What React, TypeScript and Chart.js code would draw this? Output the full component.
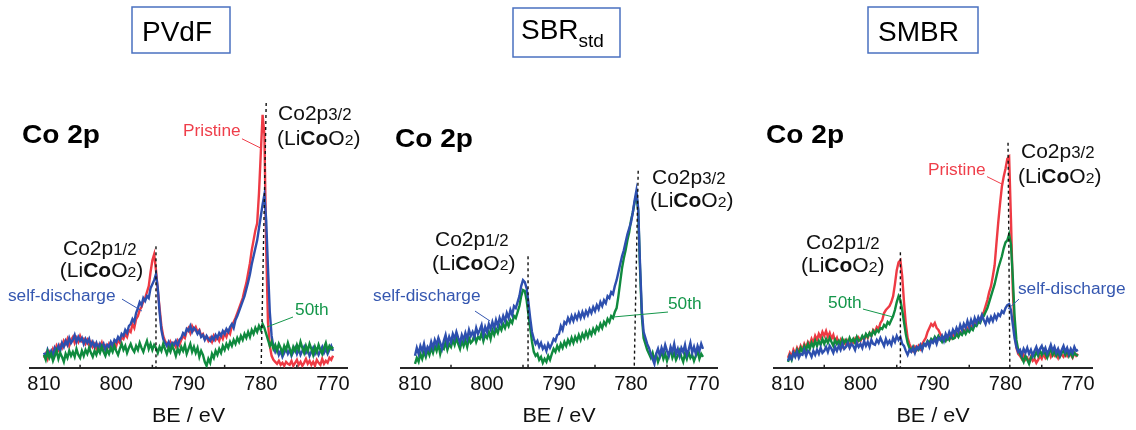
import React, { useEffect, useRef } from "react";
import { Chart, registerables } from "chart.js";
Chart.register(...registerables);

// ---------- data ----------
const BE = [
  810, 809.75, 809.5, 809.25, 809, 808.75, 808.5, 808.25, 808, 807.75, 807.5, 807.25, 807, 806.75, 806.5, 806.25,
  806, 805.75, 805.5, 805.25, 805, 804.75, 804.5, 804.25, 804, 803.75, 803.5, 803.25, 803, 802.75, 802.5, 802.25,
  802, 801.75, 801.5, 801.25, 801, 800.75, 800.5, 800.25, 800, 799.75, 799.5, 799.25, 799, 798.75, 798.5, 798.25,
  798, 797.75, 797.5, 797.25, 797, 796.75, 796.5, 796.25, 796, 795.75, 795.5, 795.25, 795, 794.75, 794.5, 794.25,
  794, 793.75, 793.5, 793.25, 793, 792.75, 792.5, 792.25, 792, 791.75, 791.5, 791.25, 791, 790.75, 790.5, 790.25,
  790, 789.75, 789.5, 789.25, 789, 788.75, 788.5, 788.25, 788, 787.75, 787.5, 787.25, 787, 786.75, 786.5, 786.25,
  786, 785.75, 785.5, 785.25, 785, 784.75, 784.5, 784.25, 784, 783.75, 783.5, 783.25, 783, 782.75, 782.5, 782.25,
  782, 781.75, 781.5, 781.25, 781, 780.75, 780.5, 780.25, 780, 779.75, 779.5, 779.25, 779, 778.75, 778.5, 778.25,
  778, 777.75, 777.5, 777.25, 777, 776.75, 776.5, 776.25, 776, 775.75, 775.5, 775.25, 775, 774.75, 774.5, 774.25,
  774, 773.75, 773.5, 773.25, 773, 772.75, 772.5, 772.25, 772, 771.75, 771.5, 771.25, 771, 770.75, 770.5, 770.25,
  770,
];
const TICKS = [810, 800, 790, 780, 770];
const MINOR_TICKS = [805, 795, 785, 775];

// PVdF
const PVDF_PRISTINE = [
  10, 14, 9, 16, 13, 19, 15, 22, 18, 23, 20, 27, 24, 29, 22, 28,
  31, 25, 30, 26, 32, 27, 29, 24, 28, 23, 26, 21, 24, 19, 23, 20,
  25, 18, 22, 19, 24, 20, 23, 26, 22, 28, 25, 31, 29, 34, 31, 38,
  36, 44, 40, 49, 52, 58, 61, 67, 70, 76, 82, 96, 108, 114, 98, 78,
  60, 42, 32, 27, 24, 20, 26, 22, 25, 21, 27, 23, 28, 32, 30, 37,
  40, 35, 42, 38, 41, 36, 38, 32, 34, 29, 31, 27, 30, 26, 32, 28,
  31, 27, 33, 29, 35, 31, 37, 34, 42, 46, 50, 55, 60, 65, 70, 78,
  85, 95, 105, 118, 128, 138, 145, 175, 215, 254, 235, 120, 45, 22, 12, 8,
  6, 4, 7, 3, 5, 2, 6, 4, 3, 7, 2, 5, 8, 3, 6, 2,
  5, 9, 4, 7, 3, 6, 2, 8, 5, 3, 9, 4, 7, 5, 10, 8,
  12,
];
const PVDF_SELF = [
  15, 11, 18, 13, 17, 12, 20, 16, 22, 17, 25, 21, 27, 23, 30, 25,
  28, 33, 26, 31, 27, 30, 24, 29, 25, 29, 22, 26, 21, 25, 19, 24,
  20, 24, 18, 23, 21, 26, 22, 28, 26, 31, 28, 34, 32, 38, 35, 42,
  44, 49, 46, 55, 60, 66, 63, 70, 67, 72, 70, 80, 84, 88, 94, 80,
  56, 38, 29, 25, 22, 26, 21, 25, 23, 27, 22, 28, 30, 35, 33, 39,
  37, 42, 36, 40, 38, 34, 37, 31, 33, 28, 32, 29, 27, 31, 28, 33,
  30, 35, 32, 37, 34, 39, 36, 41, 44, 40, 48, 52, 57, 62, 67, 72,
  79, 86, 94, 104, 112, 120, 128, 140, 152, 164, 174, 148, 100, 56, 32, 21,
  16, 20, 13, 17, 11, 15, 19, 14, 18, 12, 16, 20, 14, 19, 13, 17,
  21, 15, 18, 12, 16, 20, 14, 18, 13, 17, 21, 15, 19, 14, 18, 22,
  17,
];
const PVDF_50TH = [
  13, 8, 16, 10, 14, 7, 12, 17, 9, 15, 11, 6, 14, 10, 17, 12,
  16, 11, 19, 13, 10, 17, 12, 18, 14, 20, 15, 11, 17, 13, 19, 15,
  21, 16, 12, 18, 14, 20, 16, 22, 17, 13, 19, 24, 18, 22, 15, 20,
  24, 19, 16, 22, 18, 25, 20, 16, 22, 27, 19, 24, 18, 23, 20, 15,
  21, 17, 24, 19, 14, 20, 16, 22, 18, 12, 19, 15, 21, 17, 23, 14,
  19, 24, 16, 21, 15, 20, 11, 17, 13, 6, 2, 9, 5, 14, 10, 17,
  13, 19, 15, 22, 18, 24, 20, 26, 22, 28, 24, 30, 26, 32, 28, 34,
  30, 36, 31, 38, 34, 40, 36, 42, 38, 44, 40, 34, 28, 22, 26, 19,
  23, 17, 24, 20, 15, 22, 18, 25, 19, 14, 21, 17, 23, 18, 26, 20,
  15, 22, 17, 24, 19, 13, 21, 16, 23, 18, 14, 20, 25, 17, 22, 19,
  21,
];

// SBRstd
const SBR_SELF = [
  12, 20, 14, 22, 17, 24, 15, 21, 18, 26, 20, 28, 23, 30, 25, 19,
  27, 33, 24, 31, 26, 34, 29, 36, 30, 25, 33, 28, 35, 29, 38, 32,
  36, 31, 40, 34, 38, 43, 33, 41, 36, 44, 39, 46, 40, 48, 42, 50,
  45, 52, 47, 55, 50, 58, 53, 62, 60, 66, 72, 82, 88, 86, 80, 66,
  50, 36, 29, 24, 27, 21, 25, 19, 22, 17, 24, 20, 24, 29, 27, 33,
  34, 42, 38, 46, 44, 50, 46, 52, 47, 53, 49, 55, 50, 56, 51, 57,
  53, 59, 55, 61, 57, 63, 59, 66, 62, 68, 65, 72, 70, 76, 74, 82,
  88, 96, 104, 112, 118, 126, 134, 140, 146, 156, 168, 178, 160, 105, 58, 36,
  30, 24, 20, 14, 9, 4, 14, 19, 12, 20, 15, 23, 17, 12, 21, 16,
  24, 14, 19, 12, 20, 16, 23, 13, 18, 25, 15, 21, 14, 22, 17, 24,
  19,
];
const SBR_50TH = [
  4, 10, 6, 14, 9, 16, 11, 18, 13, 20, 15, 22, 17, 24, 14, 21,
  19, 26, 18, 24, 21, 28, 23, 30, 24, 19, 27, 22, 28, 21, 30, 25,
  27, 33, 26, 31, 29, 35, 27, 33, 30, 36, 29, 38, 33, 39, 35, 42,
  38, 44, 40, 46, 42, 48, 45, 52, 50, 56, 62, 72, 78, 77, 68, 54,
  40, 26, 16, 12, 14, 8, 11, 5, 9, 6, 12, 8, 14, 19, 16, 22,
  18, 24, 20, 26, 22, 28, 24, 30, 25, 31, 27, 33, 28, 34, 30, 36,
  31, 37, 33, 39, 35, 41, 38, 44, 40, 46, 43, 49, 46, 52, 50, 56,
  60, 72, 86, 100, 110, 118, 128, 136, 148, 156, 166, 174, 158, 100, 52, 30,
  24, 18, 14, 10, 15, 8, 13, 6, 11, 16, 9, 14, 7, 13, 18, 10,
  15, 8, 12, 17, 11, 6, 14, 9, 16, 10, 13, 7, 12, 17, 9, 14,
  11,
];

// SMBR
const SMBR_PRISTINE = [
  10, 15, 11, 18, 14, 20, 16, 22, 18, 24, 20, 26, 23, 29, 25, 32,
  28, 34, 30, 36, 32, 37, 31, 35, 29, 33, 26, 30, 24, 28, 22, 27,
  23, 27, 21, 26, 25, 29, 24, 30, 27, 31, 28, 33, 30, 35, 32, 38,
  36, 41, 39, 45, 48, 55, 58, 60, 62, 66, 72, 84, 98, 106, 108, 92,
  66, 44, 30, 24, 20, 17, 21, 18, 22, 19, 24, 27, 30, 36, 40, 44,
  42, 45, 40, 38, 34, 31, 28, 32, 29, 33, 30, 34, 31, 35, 32, 36,
  34, 38, 36, 40, 38, 42, 40, 45, 44, 48, 47, 53, 56, 62, 68, 76,
  82, 92, 103, 125, 146, 165, 182, 192, 200, 210, 212, 150, 80, 38, 20, 14,
  12, 9, 13, 8, 10, 6, 11, 7, 9, 5, 8, 12, 9, 14, 10, 13,
  16, 11, 15, 12, 14, 10, 16, 13, 11, 15, 12, 16, 13, 10, 15, 12,
  14,
];
const SMBR_SELF = [
  7, 12, 9, 15, 11, 16, 10, 14, 13, 18, 12, 17, 15, 11, 17, 13,
  18, 14, 20, 15, 17, 21, 16, 22, 19, 15, 21, 17, 22, 18, 24, 19,
  21, 25, 20, 24, 22, 18, 25, 21, 24, 20, 27, 22, 26, 21, 28, 24,
  23, 28, 25, 30, 26, 22, 29, 24, 27, 23, 30, 26, 32, 28, 31, 24,
  22, 17, 13, 18, 16, 20, 15, 21, 19, 23, 18, 24, 22, 26, 21, 27,
  25, 29, 24, 30, 28, 32, 27, 34, 30, 36, 32, 38, 34, 40, 36, 43,
  38, 44, 40, 47, 41, 48, 43, 50, 45, 51, 47, 53, 48, 44, 50, 46,
  51, 47, 53, 49, 54, 52, 57, 55, 60, 63, 64, 58, 44, 30, 21, 16,
  18, 13, 19, 15, 20, 14, 18, 12, 17, 21, 15, 19, 22, 16, 20, 14,
  18, 23, 17, 21, 15, 19, 13, 18, 22, 16, 20, 14, 19, 15, 21, 17,
  18,
];
const SMBR_50TH = [
  6, 12, 8, 15, 12, 18, 14, 20, 16, 22, 18, 24, 19, 25, 21, 27,
  22, 27, 23, 29, 24, 29, 25, 30, 26, 22, 28, 24, 27, 23, 29, 25,
  28, 24, 30, 26, 29, 25, 31, 27, 28, 32, 29, 34, 31, 35, 32, 37,
  34, 38, 36, 40, 39, 43, 41, 46, 44, 48, 52, 58, 66, 72, 68, 58,
  46, 34, 25, 20, 17, 21, 16, 20, 18, 22, 19, 24, 23, 27, 25, 29,
  27, 31, 28, 32, 29, 26, 30, 27, 31, 28, 32, 29, 30, 34, 31, 35,
  33, 37, 34, 38, 36, 40, 38, 43, 42, 46, 45, 50, 52, 56, 60, 66,
  72, 78, 84, 92, 100, 106, 112, 120, 126, 128, 134, 124, 92, 52, 28, 18,
  14, 10, 6, 12, 8, 4, 10, 14, 11, 16, 12, 17, 13, 18, 14, 10,
  15, 19, 13, 17, 12, 16, 11, 15, 17, 13, 18, 12, 16, 11, 15, 13,
  12,
];

// ---------- styles ----------
const FONT = '"Liberation Sans", Arial, Helvetica, sans-serif';
const RED = "#ee3a44";
const BLUE = "#2d4fae";
const GREEN = "#0f8a3e";
const RED_TXT = "#ef3e4a";
const BLUE_TXT = "#3557b0";
const GREEN_TXT = "#14964a";
const INK = "#111111";
const BOX = "#4a70c0";

type Seg = { t: string; size: number; bold?: boolean; dy?: number };
type Label = { be: number; y: number; segs: Seg[]; color: string; sx: number };
type Leader = { a: [number, number]; b: [number, number]; color: string };
type Series = { name: string; data: number[]; color: string; order: number };
type Panel = {
  left: number;
  width: number;
  padLeft: number;
  padRight: number;
  series: Series[];
  labels: Label[];
  leaders: Leader[];
  dashes: [number, number, number][];
  box: { x: number; y: number; w: number; h: number; tx: number; ty: number; segs: Seg[] };
};

const CO2P = (frac: string): Seg[] => [
  { t: "Co2p", size: 20 },
  { t: frac, size: 16 },
];
const LICOO2: Seg[] = [
  { t: "(Li", size: 20 },
  { t: "Co", size: 20, bold: true },
  { t: "O", size: 20 },
  { t: "2", size: 15 },
  { t: ")", size: 20 },
];
const CO2P_TITLE: Seg[] = [{ t: "Co 2p", size: 26, bold: true }];
const txt = (t: string): Seg[] => [{ t, size: 16 }];

const PANELS: Panel[] = [
  {
    left: 0,
    width: 372,
    padLeft: 29.5,
    padRight: 24.5,
    series: [
      { name: "Pristine", data: PVDF_PRISTINE, color: RED, order: 2 },
      { name: "self-discharge", data: PVDF_SELF, color: BLUE, order: 1 },
      { name: "50th", data: PVDF_50TH, color: GREEN, order: 0 },
    ],
    labels: [
      { be: 813.04, y: 226, segs: CO2P_TITLE, color: "#000", sx: 1.08 },
      { be: 777.61, y: 249, segs: CO2P("3/2"), color: INK, sx: 1.05 },
      { be: 777.75, y: 224, segs: LICOO2, color: INK, sx: 1.05 },
      { be: 790.76, y: 233, segs: txt("Pristine"), color: RED_TXT, sx: 1.08 },
      { be: 807.37, y: 113, segs: CO2P("1/2"), color: INK, sx: 1.05 },
      { be: 807.8, y: 91, segs: LICOO2, color: INK, sx: 1.05 },
      { be: 814.98, y: 67, segs: txt("self-discharge"), color: BLUE_TXT, sx: 1.08 },
      { be: 775.26, y: 53, segs: txt("50th"), color: GREEN_TXT, sx: 1.08 },
    ],
    leaders: [
      { a: [782.6, 230], b: [779.83, 220], color: RED_TXT },
      { a: [799.2, 69], b: [796.44, 57], color: BLUE_TXT },
      { a: [775.54, 51], b: [779.14, 41], color: GREEN_TXT },
    ],
    dashes: [
      [794.5, 122, 794.5],
      [779.25, 266, 779.95],
    ],
    box: { x: 132, y: 7, w: 98, h: 46, tx: 142, ty: 41, segs: [{ t: "PVdF", size: 28 }] },
  },
  {
    left: 360,
    width: 390,
    padLeft: 40.6,
    padRight: 32.6,
    series: [
      { name: "self-discharge", data: SBR_SELF, color: BLUE, order: 0 },
      { name: "50th", data: SBR_50TH, color: GREEN, order: 1 },
    ],
    labels: [
      { be: 812.78, y: 222, segs: CO2P_TITLE, color: "#000", sx: 1.08 },
      { be: 777.08, y: 185, segs: CO2P("3/2"), color: INK, sx: 1.05 },
      { be: 777.36, y: 161, segs: LICOO2, color: INK, sx: 1.05 },
      { be: 807.22, y: 122, segs: CO2P("1/2"), color: INK, sx: 1.05 },
      { be: 807.64, y: 98, segs: LICOO2, color: INK, sx: 1.05 },
      { be: 815.83, y: 67, segs: txt("self-discharge"), color: BLUE_TXT, sx: 1.08 },
      { be: 774.86, y: 59, segs: txt("50th"), color: GREEN_TXT, sx: 1.08 },
    ],
    leaders: [
      { a: [801.67, 57], b: [799.58, 47], color: BLUE_TXT },
      { a: [774.86, 56], b: [782.5, 51], color: GREEN_TXT },
    ],
    dashes: [
      [794.3, 112, 794.3],
      [779.0, 198, 779.55],
    ],
    box: {
      x: 513,
      y: 8,
      w: 107,
      h: 49,
      tx: 521,
      ty: 38.5,
      segs: [
        { t: "SBR", size: 28 },
        { t: "std", size: 19, dy: 8.5 },
      ],
    },
  },
  {
    left: 744,
    width: 392,
    padLeft: 29.5,
    padRight: 43.5,
    series: [
      { name: "Pristine", data: SMBR_PRISTINE, color: RED, order: 2 },
      { name: "50th", data: SMBR_50TH, color: GREEN, order: 1 },
      { name: "self-discharge", data: SMBR_SELF, color: BLUE, order: 0 },
    ],
    labels: [
      { be: 813.03, y: 226, segs: CO2P_TITLE, color: "#000", sx: 1.08 },
      { be: 777.86, y: 211, segs: CO2P("3/2"), color: INK, sx: 1.05 },
      { be: 778.28, y: 186, segs: LICOO2, color: INK, sx: 1.05 },
      { be: 790.69, y: 194, segs: txt("Pristine"), color: RED_TXT, sx: 1.08 },
      { be: 807.52, y: 119, segs: CO2P("1/2"), color: INK, sx: 1.05 },
      { be: 808.21, y: 96, segs: LICOO2, color: INK, sx: 1.05 },
      { be: 804.48, y: 60, segs: txt("50th"), color: GREEN_TXT, sx: 1.08 },
      { be: 778.28, y: 74, segs: txt("self-discharge"), color: BLUE_TXT, sx: 1.08 },
    ],
    leaders: [
      { a: [782.55, 192], b: [780.34, 184], color: RED_TXT },
      { a: [799.66, 59], b: [795.52, 51], color: GREEN_TXT },
      { a: [778.14, 69], b: [779.66, 59], color: BLUE_TXT },
    ],
    dashes: [
      [794.5, 116, 794.5],
      [779.65, 226, 779.4],
    ],
    box: { x: 868, y: 7, w: 110, h: 46, tx: 878, ty: 41, segs: [{ t: "SMBR", size: 28 }] },
  },
];

// ---------- drawing helpers ----------
function segFont(s: Seg) {
  return `${s.bold ? "bold " : ""}${s.size}px ${FONT}`;
}
function drawSegs(ctx: CanvasRenderingContext2D, x: number, y: number, segs: Seg[], color: string, sx: number) {
  ctx.save();
  ctx.translate(x, y);
  ctx.scale(sx, 1);
  ctx.fillStyle = color;
  ctx.textBaseline = "alphabetic";
  ctx.textAlign = "left";
  let cx = 0;
  for (const s of segs) {
    ctx.font = segFont(s);
    ctx.fillText(s.t, cx, s.dy || 0);
    cx += ctx.measureText(s.t).width;
  }
  ctx.restore();
}

function annotationPlugin(p: Panel) {
  return {
    id: "annotations",
    afterDatasetsDraw(chart: any) {
      const ctx: CanvasRenderingContext2D = chart.ctx;
      const xs = chart.scales.x;
      const ys = chart.scales.y;
      const px = (v: number) => xs.getPixelForValue(v);
      const py = (v: number) => ys.getPixelForValue(v);
      ctx.save();

      // minor ticks (inside)
      ctx.strokeStyle = "#222";
      ctx.lineWidth = 1.5;
      for (const v of MINOR_TICKS) {
        ctx.beginPath();
        ctx.moveTo(px(v), py(0));
        ctx.lineTo(px(v), py(0) - 3);
        ctx.stroke();
      }

      // dashed reference lines
      ctx.strokeStyle = "#111";
      ctx.lineWidth = 1.4;
      ctx.setLineDash([3, 3]);
      for (const [bt, yt, bb] of p.dashes) {
        ctx.beginPath();
        ctx.moveTo(px(bt), py(yt));
        ctx.lineTo(px(bb), py(0));
        ctx.stroke();
      }
      ctx.setLineDash([]);

      // leader lines
      ctx.lineWidth = 1;
      for (const l of p.leaders) {
        ctx.strokeStyle = l.color;
        ctx.beginPath();
        ctx.moveTo(px(l.a[0]), py(l.a[1]));
        ctx.lineTo(px(l.b[0]), py(l.b[1]));
        ctx.stroke();
      }

      // labels
      for (const lb of p.labels) {
        drawSegs(ctx, px(lb.be), py(lb.y), lb.segs, lb.color, lb.sx);
      }

      // axis title
      const title: Seg[] = [{ t: "BE / eV", size: 20 }];
      ctx.font = segFont(title[0]);
      const w = ctx.measureText(title[0].t).width * 1.08;
      drawSegs(ctx, px(790) - w / 2, py(-54), title, INK, 1.08);

      // binder box
      const b = p.box;
      ctx.strokeStyle = BOX;
      ctx.lineWidth = 1.5;
      ctx.strokeRect(b.x - p.left, b.y, b.w, b.h);
      drawSegs(ctx, b.tx - p.left, b.ty, b.segs, "#000", 1);

      ctx.restore();
    },
  };
}

function PanelChart({ p }: { p: Panel }) {
  const ref = useRef<HTMLCanvasElement | null>(null);
  useEffect(() => {
    if (!ref.current) return;
    const chart = new Chart(ref.current, {
      type: "line",
      data: {
        datasets: p.series.map((s) => ({
          label: s.name,
          data: BE.map((b, i) => ({ x: b, y: s.data[i] })),
          borderColor: s.color,
          backgroundColor: s.color,
          borderWidth: 2.4,
          pointRadius: 0,
          tension: 0,
          order: s.order,
        })),
      },
      options: {
        animation: false,
        responsive: false,
        devicePixelRatio: 1,
        events: [],
        layout: { padding: { left: p.padLeft, right: p.padRight, top: 90, bottom: 28.2 } },
        plugins: { legend: { display: false }, tooltip: { enabled: false } },
        scales: {
          x: {
            type: "linear",
            reverse: true,
            min: 768,
            max: 812,
            afterBuildTicks: (axis: any) => {
              axis.ticks = TICKS.map((v) => ({ value: v }));
            },
            grid: { display: false, drawTicks: false },
            border: { display: true, color: "#262626", width: 2 },
            ticks: {
              font: { family: FONT, size: 20 },
              color: INK,
              padding: 5,
              maxRotation: 0,
              autoSkip: false,
            },
          },
          y: { type: "linear", min: 0, max: 279, display: false },
        },
      },
      plugins: [annotationPlugin(p)],
    } as any);
    return () => chart.destroy();
  }, [p]);
  return (
    <canvas
      ref={ref}
      width={p.width}
      height={430}
      style={{ position: "absolute", left: p.left, top: 0, width: p.width, height: 430 }}
    />
  );
}

export default function App() {
  return (
    <div
      style={{
        position: "absolute",
        left: 0,
        top: 0,
        width: 1136,
        height: 430,
        background: "#ffffff",
        overflow: "hidden",
      }}
    >
      {PANELS.map((p, i) => (
        <PanelChart key={i} p={p} />
      ))}
    </div>
  );
}
